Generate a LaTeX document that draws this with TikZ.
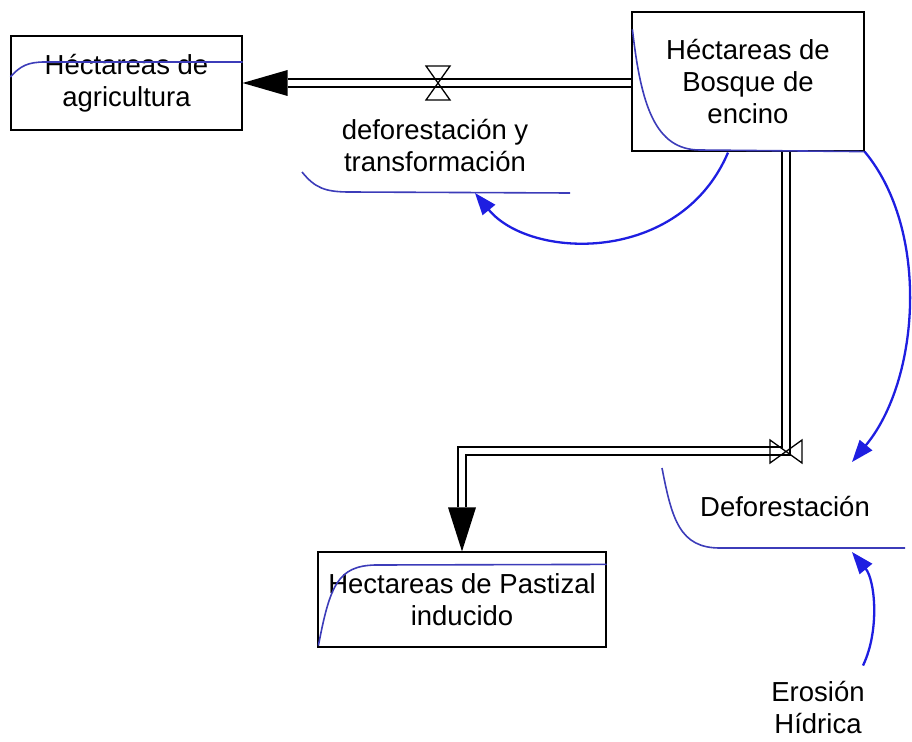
\documentclass[tikz,border=0pt]{standalone}
\usepackage{fontspec}
\setmainfont{Liberation Sans}
\usetikzlibrary{arrows.meta,calc}
\definecolor{curveblue}{RGB}{60,60,185}
\definecolor{linkblue}{RGB}{30,30,225}
\tikzset{
    stock/.style={draw, line width=1.2pt, align=center, inner sep=0pt,
        font=\fontsize{27.5}{32}\selectfont},
    lbl/.style={align=center, inner sep=0pt, font=\fontsize{27.5}{32}\selectfont},
    pipe/.style={double, double distance=6.5pt, line width=1.3pt, line join=miter},
    valve/.style={line width=1.3pt},
    graph/.style={curveblue, line width=1.6pt},
    link/.style={linkblue, line width=2.3pt, -{Triangle[length=22pt,width=16pt]}}
}
\begin{document}
\begin{tikzpicture}[x=1pt, y=-1pt]
    \useasboundingbox (0,0) rectangle (912,741);

    % niveles
    \node[stock, minimum width=231pt, minimum height=94pt] (agri) at (126.5,83) {Héctareas de\\agricultura};
    \node[stock, minimum width=232pt, minimum height=139pt] (bosque) at (748,81.5) {Héctareas de\\Bosque de\\encino};
    \node[stock, minimum width=288pt, minimum height=95pt] (pasti) at (462,599.5) {Hectareas de Pastizal\\inducido};

    % flujos y auxiliares
    \node[lbl] (dtlabel) at (435,146) {deforestación y\\transformación};
    \node[lbl] (defor) at (785,507) {Deforestación};
    \node[lbl] (erosion) at (818,708) {Erosión\\Hídrica};
    \coordinate (valve1) at (438,83);
    \coordinate (valve2) at (786,451);
    \coordinate (dtline) at (475,193);
    \coordinate (deline) at (852,462);
    \coordinate (deunder) at (852,552);

    % tuberias
    \draw[pipe] ($(agri.east)+(45,0)$) -- (bosque.west |- valve1);
    \fill ($(agri.east)$) -- ++(45,-13) -- ++(0,26) -- cycle;
    \draw[pipe] (bosque.south -| valve2) -- (valve2) -| ($(pasti.north)+(0,-44)$);
    \fill (pasti.north) -- ++(-14,-44) -- ++(28,0) -- cycle;

    % valvulas
    \draw[valve] (valve1) ++(-12,-17) -- ++(24,0) -- ++(-24,34) -- ++(24,0) -- cycle;
    \draw[valve] (valve2) ++(-16,-11) -- ++(0,23) -- ++(32,-23) -- ++(0,23) -- cycle;

    % graficas dentro de los niveles
    \draw[graph] ($(agri.west)+(0,-6)$) .. controls (20,66) and (28,62) .. (45,62) -- ($(agri.east)+(0,-21)$);
    \draw[graph] ($(bosque.north west)+(1,18)$) .. controls (641,105) and (655,150) .. (700,150) -- (bosque.south east);
    \draw[graph] ($(pasti.south west)+(1,-2)$) .. controls (330,585) and (338,566) .. (375,565) -- ($(pasti.north east)+(0,13)$);
    \draw[graph] (302,172) .. controls (315,188) and (325,192) .. (350,192) -- (570,193);
    \draw[graph] (662,468) .. controls (672,520) and (680,548) .. (720,548) -- (905,548);

    % conectores
    \draw[link] ($(bosque.south)+(-20,1)$) .. controls (680,265) and (530,260) .. (dtline);
    \draw[link] (bosque.south east) .. controls (930,230) and (920,380) .. (deline);
    \draw[link] ($(erosion.north)+(45,-16)$) .. controls (880,630) and (875,580) .. (deunder);
\end{tikzpicture}
\end{document}
